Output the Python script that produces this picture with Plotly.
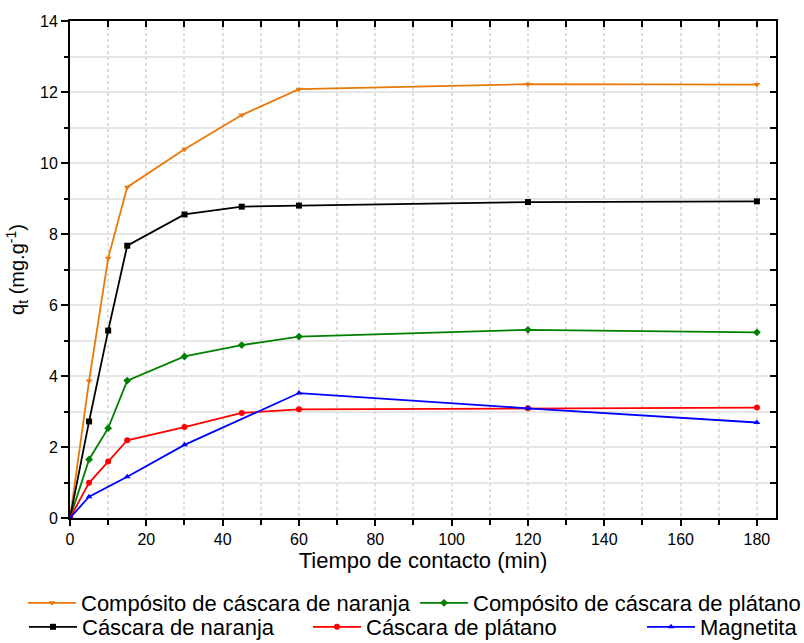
import plotly.graph_objects as go

t_full = [0, 5, 10, 15, 30, 45, 60, 120, 180]
t_mag = [0, 5, 15, 30, 60, 120, 180]

comp_naranja = [0, 3.86, 7.32, 9.32, 10.39, 11.35, 12.08, 12.22, 12.21]
comp_platano = [0, 1.65, 2.53, 3.87, 4.55, 4.87, 5.11, 5.30, 5.23]
casc_naranja = [0, 2.72, 5.28, 7.67, 8.55, 8.77, 8.80, 8.90, 8.92]
casc_platano = [0, 0.99, 1.59, 2.19, 2.56, 2.96, 3.06, 3.09, 3.11]
magnetita = [0, 0.60, 1.16, 2.06, 3.52, 3.09, 2.69]

FONT = "Liberation Sans, Arial, sans-serif"

series = [
    ("Compósito de cáscara de naranja", t_full, comp_naranja, "#E8790A", "triangle-down", "legend"),
    ("Compósito de cáscara de plátano", t_full, comp_platano, "#008000", "diamond", "legend2"),
    ("Cáscara de naranja", t_full, casc_naranja, "#000000", "square", "legend3"),
    ("Cáscara de plátano", t_full, casc_platano, "#FF0000", "circle", "legend4"),
    ("Magnetita", t_mag, magnetita, "#0000FF", "triangle-up", "legend5"),
]

fig = go.Figure()
for name, x, y, col, sym, leg in series:
    fig.add_trace(go.Scatter(
        x=x, y=y, name=name, mode="lines+markers",
        line=dict(color=col, width=1.8),
        marker=dict(color=col, symbol=sym, size=6),
        legend=leg,
    ))

# invisible trace to activate mirrored top/right axes
fig.add_trace(go.Scatter(x=[None], y=[None], xaxis="x2", yaxis="y2",
                         showlegend=False, hoverinfo="skip"))

W, H = 804, 643
legend_pos = {
    "legend": (23, 603),
    "legend2": (415, 603),
    "legend3": (24, 627),
    "legend4": (308, 627),
    "legend5": (642, 627),
}
leg_layout = {}
for k, (px, py) in legend_pos.items():
    leg_layout[k] = dict(
        xref="container", yref="container",
        x=px / W, y=1 - py / H, xanchor="left", yanchor="middle",
        orientation="h", font=dict(family=FONT, size=22, color="#000"),
        bgcolor="rgba(0,0,0,0)", borderwidth=0, itemwidth=48,
    )

fig.update_layout(
    width=W, height=H,
    margin=dict(l=70, r=28, t=21, b=125),
    paper_bgcolor="white", plot_bgcolor="white",
    font=dict(family=FONT, size=16, color="#000"),
    showlegend=True,
    xaxis=dict(
        range=[0, 185], dtick=20, tick0=0,
        showline=True, linecolor="#000", linewidth=2,
        ticks="outside", ticklen=6, tickwidth=1.5, tickcolor="#000",
        showgrid=True, gridcolor="#dddddd", griddash="dot", gridwidth=1.5,
        zeroline=False,
        minor=dict(dtick=10, ticks="outside", ticklen=5, tickcolor="#000",
                   showgrid=True, gridcolor="#dddddd", griddash="dot", gridwidth=1.5),
        tickfont=dict(size=16),
        title=dict(text="Tiempo de contacto (min)", font=dict(size=22), standoff=3),
    ),
    yaxis=dict(
        range=[0, 14], dtick=2, tick0=0,
        showline=True, linecolor="#000", linewidth=2,
        ticks="outside", ticklen=7, tickwidth=1.5, tickcolor="#000",
        showgrid=True, gridcolor="#e6e6e6", gridwidth=1.5,
        zeroline=False,
        minor=dict(dtick=1, ticks="outside", ticklen=4, tickcolor="#000",
                   showgrid=True, gridcolor="#e6e6e6", gridwidth=1.5),
        tickfont=dict(size=16),
        title=dict(text="q<sub>t</sub> (mg.g<sup>-1</sup>)", font=dict(size=20), standoff=10),
    ),
    xaxis2=dict(
        overlaying="x", side="top", range=[0, 185], dtick=10, tick0=0,
        showline=True, linecolor="#000", linewidth=2,
        ticks="inside", ticklen=6, tickwidth=1.5, tickcolor="#000",
        showticklabels=False, showgrid=False, zeroline=False,
    ),
    yaxis2=dict(
        overlaying="y", side="right", range=[0, 14], dtick=1, tick0=0,
        showline=True, linecolor="#000", linewidth=2,
        ticks="inside", ticklen=6, tickwidth=1.5, tickcolor="#000",
        showticklabels=False, showgrid=False, zeroline=False,
    ),
    **leg_layout,
)

fig.write_html("out.html")
